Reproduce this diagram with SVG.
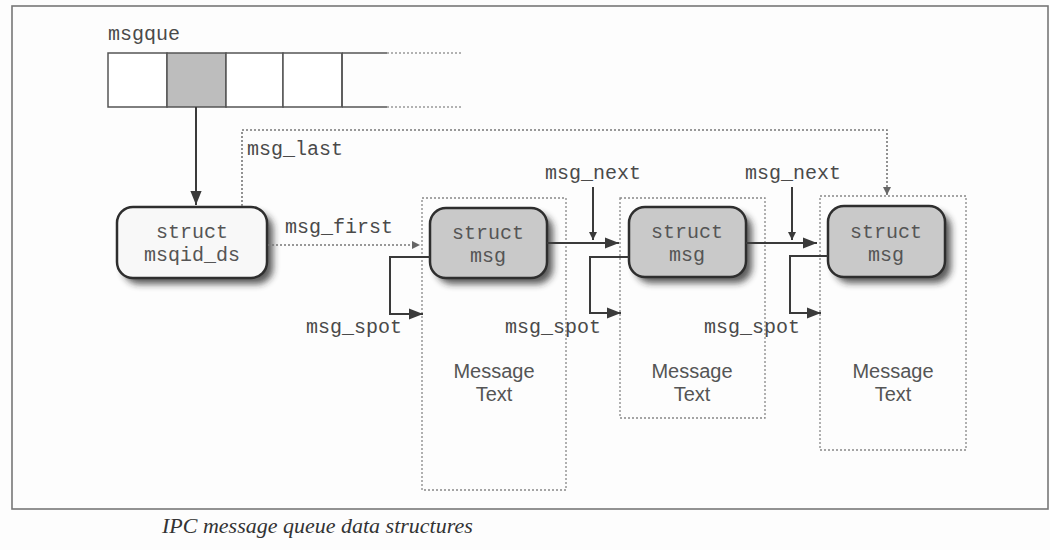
<svg xmlns="http://www.w3.org/2000/svg" width="1050" height="550" viewBox="0 0 1050 550">
<defs>
<style>
.mono{font-family:"Liberation Mono","DejaVu Sans Mono",monospace;font-size:20px;fill:#4a4a4a}
.node{font-family:"Liberation Mono","DejaVu Sans Mono",monospace;font-size:20px;fill:#555;text-anchor:middle}
.sans{font-family:"Liberation Sans",Arial,sans-serif;font-size:20px;fill:#555;text-anchor:middle}
.cap{font-family:"Liberation Serif","Times New Roman",serif;font-style:italic;font-size:22px;fill:#333}
.solid{fill:none;stroke:#3a3a3a;stroke-width:2}
.dot{fill:none;stroke:#777;stroke-width:1.6;stroke-dasharray:2 2}
.cont{fill:none;stroke:#888;stroke-width:1.3;stroke-dasharray:2 2}
.box{stroke:#2e2e2e;stroke-width:2.5}
</style>
<marker id="ah" viewBox="0 0 10 10" refX="10" refY="5" markerWidth="8" markerHeight="8" markerUnits="userSpaceOnUse" orient="auto"><path d="M0,0 L10,5 L0,10 z" fill="#3a3a3a"/></marker>
<marker id="ahd" viewBox="0 0 10 10" refX="10" refY="5" markerWidth="8" markerHeight="8" markerUnits="userSpaceOnUse" orient="auto"><path d="M0,0 L10,5 L0,10 z" fill="#666"/></marker>
<marker id="ahs" viewBox="0 0 10 10" refX="10" refY="5" markerWidth="14" markerHeight="14" markerUnits="userSpaceOnUse" orient="auto"><path d="M0,1 L10,5 L0,9 z" fill="#3a3a3a"/></marker>
<filter id="sh" x="-20%" y="-20%" width="150%" height="160%"><feGaussianBlur stdDeviation="3.5"/></filter>
</defs>
<rect x="0" y="0" width="1050" height="550" fill="#fdfdfd"/>
<rect x="12" y="6" width="1036" height="503" fill="none" stroke="#777" stroke-width="1.6"/>

<g id="msgque">
<text class="mono" x="108" y="40">msgque</text>
<rect x="108" y="53" width="59" height="54" fill="#fff" stroke="#555" stroke-width="1.5"/>
<rect x="167" y="53" width="59" height="54" fill="#bdbdbd" stroke="#555" stroke-width="1.5"/>
<rect x="226" y="53" width="57" height="54" fill="#fff" stroke="#555" stroke-width="1.5"/>
<rect x="283" y="53" width="59" height="54" fill="#fff" stroke="#555" stroke-width="1.5"/>
<path d="M342,53 H387 M342,107 H387 M342,53 V107" fill="none" stroke="#555" stroke-width="1.5"/>
<path d="M387,53 H463 M387,107 H463" fill="none" stroke="#999" stroke-width="1.3" stroke-dasharray="2 2"/>
</g>

<g id="msgcontainers">
<rect class="cont" x="422" y="198" width="144" height="292"/>
<rect class="cont" x="620" y="198" width="145" height="220"/>
<rect class="cont" x="820" y="196" width="146" height="254"/>
</g>

<g id="msqid_ds">
<rect x="123" y="213" width="150" height="71" rx="16" fill="#222" opacity="0.75" filter="url(#sh)"/>
<rect class="box" x="117" y="207" width="150" height="71" rx="16" fill="#f8f8f8"/>
<text class="node" x="192" y="238">struct</text>
<text class="node" x="192" y="261">msqid_ds</text>
</g>

<g id="msg1">
<rect x="436" y="214" width="117" height="70" rx="16" fill="#222" opacity="0.75" filter="url(#sh)"/>
<rect class="box" x="430" y="208" width="117" height="70" rx="16" fill="#c9c9c9"/>
<text class="node" x="488" y="239">struct</text>
<text class="node" x="488" y="262">msg</text>
<text class="sans" x="494" y="378">Message</text>
<text class="sans" x="494" y="401">Text</text>
</g>

<g id="msg2">
<rect x="635" y="213" width="117" height="70" rx="16" fill="#222" opacity="0.75" filter="url(#sh)"/>
<rect class="box" x="629" y="207" width="117" height="70" rx="16" fill="#c9c9c9"/>
<text class="node" x="687" y="238">struct</text>
<text class="node" x="687" y="261">msg</text>
<text class="sans" x="692" y="378">Message</text>
<text class="sans" x="692" y="401">Text</text>
</g>

<g id="msg3">
<rect x="834" y="212" width="117" height="71" rx="16" fill="#222" opacity="0.75" filter="url(#sh)"/>
<rect class="box" x="828" y="206" width="117" height="71" rx="16" fill="#c9c9c9"/>
<text class="node" x="886" y="238">struct</text>
<text class="node" x="886" y="261">msg</text>
<text class="sans" x="893" y="378">Message</text>
<text class="sans" x="893" y="401">Text</text>
</g>

<g id="connectors">
<path class="solid" d="M196,107 V205" marker-end="url(#ahs)"/>
<path class="dot" d="M242,206 V130 H887 V195" marker-end="url(#ahd)"/>
<path class="dot" d="M268,245 H420" marker-end="url(#ahd)"/>
<path class="solid" d="M547,243 H619" marker-end="url(#ahs)"/>
<path class="solid" d="M746,243 H817" marker-end="url(#ahs)"/>
<path class="solid" stroke-width="1.5" d="M593,187 V240" marker-end="url(#ah)"/>
<path class="solid" stroke-width="1.5" d="M792,187 V240" marker-end="url(#ah)"/>
<path class="solid" d="M430,257 H390 V314 H423" marker-end="url(#ahs)"/>
<path class="solid" d="M629,257 H590 V313 H621" marker-end="url(#ahs)"/>
<path class="solid" d="M828,256 H790 V313 H821" marker-end="url(#ahs)"/>
<text class="mono" x="247" y="155">msg_last</text>
<text class="mono" x="285" y="233">msg_first</text>
<text class="mono" x="545" y="179">msg_next</text>
<text class="mono" x="745" y="179">msg_next</text>
<text class="mono" x="402" y="333" text-anchor="end">msg_spot</text>
<text class="mono" x="601" y="333" text-anchor="end">msg_spot</text>
<text class="mono" x="800" y="333" text-anchor="end">msg_spot</text>
</g>

<text class="cap" x="162" y="533">IPC message queue data structures</text>
</svg>
